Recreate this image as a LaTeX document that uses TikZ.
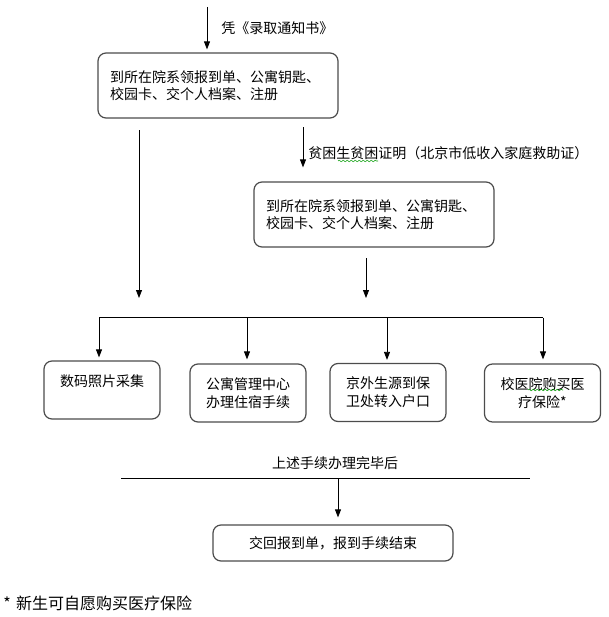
\documentclass[tikz,border=0pt]{standalone}
\usepackage{fontspec}
\setmainfont{Noto Sans CJK SC}
\usetikzlibrary{arrows.meta,decorations.pathmorphing}
\begin{document}
\begin{tikzpicture}[x=0.75pt,y=-0.75pt,
  box/.style={draw=black!70, line width=0.9pt, rounded corners=6pt, inner sep=0pt,
    font=\fontsize{10.5}{13}\selectfont},
  topbox/.style={box, inner xsep=9pt, text width=162pt, minimum height=48.75pt, align=left},
  smallbox/.style={box, text width=87pt, minimum height=43.5pt, align=center,
    font=\fontsize{10.5}{13.5}\selectfont},
  endbox/.style={box, text width=180pt, minimum height=27pt, align=center},
  lbl/.style={inner sep=0pt, font=\fontsize{10.5}{13}\selectfont},
  conn/.style={line width=0.6pt, black},
  arr/.style={conn, -{Triangle[width=4.5pt,length=6pt]}},
  wavy/.style={green!60!black, line width=0.4pt, decorate,
    decoration={snake, amplitude=0.6pt, segment length=3pt}}]
\useasboundingbox (0,0) rectangle (608,617);

% top step
\coordinate (s0) at (207,7);
\node[topbox] (b1) at (218,85.5) {到所在院系领报到单、公寓钥匙、\\校园卡、交个人档案、注册};
\draw[arr, shorten >=2.25pt] (s0) -- (s0 |- b1.north);
\node[lbl, anchor=west] (l1) at (221,28) {凭《录取通知书》};

% second step
\node[topbox] (b2) at (374,214.5) {到所在院系领报到单、公寓钥匙、\\校园卡、交个人档案、注册};
\coordinate (s1) at (303,127);
\draw[arr, shorten >=10.5pt] (s1) -- (s1 |- b2.north);
\node[lbl, anchor=west] (l2) at (308,153) {贫困生贫困证明（北京市低收入家庭救助证）};
\draw[wavy] (338,161) -- (378,161);

% arrows to the bus
\coordinate (a1s) at (139,130);
\coordinate (a1e) at (139,298);
\draw[arr] (a1s) -- (a1e);
\coordinate (a2s) at (366,258);
\coordinate (a2e) at (366,298);
\draw[arr] (a2s) -- (a2e);

% bus
\coordinate (busL) at (99,317.5);
\coordinate (busR) at (543,317.5);
\draw[conn] (busL) -- (busR);

% four boxes
\node[smallbox] (ba) at (102,390) {数码照片采集\\\mbox{}};
\node[smallbox] (bb) at (248,393) {公寓管理中心\\办理住宿手续};
\node[smallbox] (bc) at (388,392.5) {京外生源到保\\卫处转入户口};
\node[smallbox] (bd) at (542.5,393) {校医院购买医\\疗保险*};
\draw[wavy] (528,390) -- (563,390);

\coordinate (da) at (99,317.5);
\coordinate (db) at (247,317.5);
\coordinate (dc) at (387,317.5);
\coordinate (dd) at (543,317.5);
\draw[arr, shorten >=2.25pt] (da) -- (da |- ba.north);
\draw[arr, shorten >=3pt] (db) -- (db |- bb.north);
\draw[arr, shorten >=2.25pt] (dc) -- (dc |- bc.north);
\draw[arr, shorten >=3pt] (dd) -- (dd |- bd.north);

% completion line
\node[lbl] (l3) at (335,463) {上述手续办理完毕后};
\coordinate (hl) at (121,478);
\coordinate (hr) at (530,478);
\draw[conn] (hl) -- (hr);
\coordinate (hm) at (338,478);
\node[endbox] (fin) at (333,543) {交回报到单，报到手续结束};
\draw[arr, shorten >=5.25pt] (hm) -- (hm |- fin.north);

% footnote
\node[inner sep=0pt, anchor=west, font=\fontsize{12}{14}\selectfont] (note) at (3,603) {*\hspace{4pt}新生可自愿购买医疗保险};
\end{tikzpicture}
\end{document}
